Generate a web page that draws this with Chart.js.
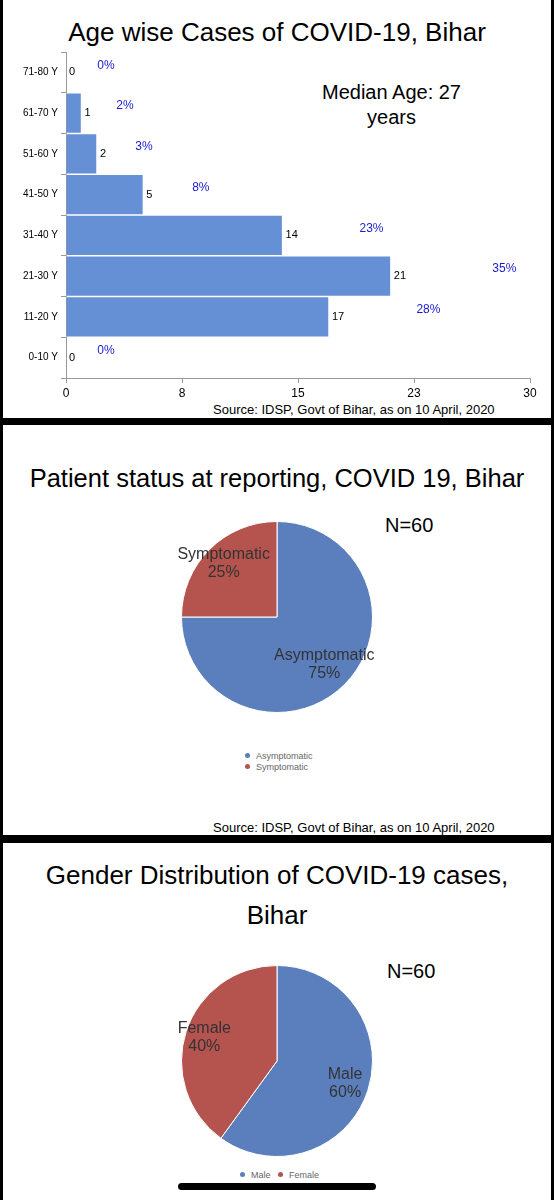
<!DOCTYPE html>
<html><head><meta charset="utf-8">
<script src="https://cdn.jsdelivr.net/npm/chart.js@4"></script>
<style>
body{margin:0;background:#000;width:554px;height:1200px;position:relative;overflow:hidden;font-family:"Liberation Sans",Arial,sans-serif}
.p{position:absolute;left:3px;width:548px;background:#fff}
.t{position:absolute;left:0;width:100%;text-align:center;color:#000;font-size:26px;line-height:40px}
.s{position:absolute;font-size:13px;color:#000;white-space:nowrap}
.lg{position:absolute;font-size:9px;color:#666;white-space:nowrap;line-height:11px}
.d{display:inline-block;width:5px;height:5px;border-radius:50%;margin-right:6px;vertical-align:1px}
canvas{position:absolute}
</style></head><body>
<div class="p" style="top:0;height:418px"></div>
<div class="p" style="top:425px;height:410px"></div>
<div class="p" style="top:843px;height:357px"></div>
<div class="t" style="top:12px">Age wise Cases of COVID-19, Bihar</div>
<div class="t" style="top:458px;font-size:25.5px">Patient status at reporting, COVID 19, Bihar</div>
<div class="t" style="top:855px">Gender Distribution of COVID-19 cases,<br>Bihar</div>
<div class="s" style="left:322px;top:80px;font-size:20px;text-align:center;line-height:25px">Median Age: 27<br>years</div>
<div class="s" style="left:213px;top:402px">Source: IDSP, Govt of Bihar, as on 10 April, 2020</div>
<div class="s" style="left:213px;top:820px">Source: IDSP, Govt of Bihar, as on 10 April, 2020</div>
<div class="s" style="left:385px;top:514px;font-size:20px">N=60</div>
<div class="s" style="left:387px;top:960px;font-size:20px">N=60</div>
<canvas id="c1" style="left:0;top:0;width:554px;height:418px"></canvas>
<canvas id="c2" style="left:0;top:519px;width:554px;height:196px"></canvas>
<canvas id="c3" style="left:0;top:963px;width:554px;height:196px"></canvas>
<div id="lg2" class="lg" style="left:245px;top:751px"></div>
<div id="lg3" class="lg" style="left:240px;top:1170px"></div>
<div style="position:absolute;left:178px;top:1183px;width:198px;height:7px;border-radius:4px;background:#000"></div>
<script>
const ageGroups=["71-80 Y","61-70 Y","51-60 Y","41-50 Y","31-40 Y","21-30 Y","11-20 Y","0-10 Y"];
const ageCases=[0,1,2,5,14,21,17,0];
const agePct=["0%","2%","3%","8%","23%","35%","28%","0%"];
const xTicks=[0,8,15,23,30];
const statusLabels=["Asymptomatic","Symptomatic"];
const statusValues=[45,15];
const statusPct=["75%","25%"];
const genderLabels=["Male","Female"];
const genderValues=[36,24];
const genderPct=["60%","40%"];
const BLUE="#5b7fbd",RED="#b5534f",BAR="#6690d6";

document.getElementById('lg2').innerHTML=statusLabels.map((l,i)=>'<span class="d" style="background:'+[BLUE,RED][i]+'"></span>'+l).join('<br>');
document.getElementById('lg3').innerHTML=genderLabels.map((l,i)=>'<span class="d" style="background:'+[BLUE,RED][i]+'"></span>'+l).join('&nbsp;&nbsp;&nbsp;');

const barLabels={id:'bl',afterDatasetsDraw(ch){
 const c=ch.ctx,m=ch.getDatasetMeta(0);
 c.save();c.textBaseline='middle';
 m.data.forEach((b,i)=>{
  c.font='11px "Liberation Sans",Arial';c.fillStyle='#000';c.textAlign='left';
  c.fillText(ageCases[i],b.x+3,b.y);
  c.font='12px "Liberation Sans",Arial';c.fillStyle='#1a1ad0';c.textAlign='center';
  c.fillText(agePct[i],b.x+40+ageCases[i]*3.5,b.y-7);
 });c.restore();}};

new Chart(document.getElementById('c1'),{type:'bar',
 data:{labels:ageGroups,datasets:[{data:ageCases,backgroundColor:BAR,borderColor:'#fff',borderWidth:1,barPercentage:1,categoryPercentage:1}]},
 options:{indexAxis:'y',responsive:false,animation:false,devicePixelRatio:1,
  layout:{padding:{left:0,right:24,top:52,bottom:10}},
  plugins:{legend:{display:false},tooltip:{enabled:false}},
  scales:{
   x:{min:0,max:30,afterBuildTicks(a){a.ticks=[0,7.5,15,22.5,30].map(v=>({value:v}));},
      ticks:{callback:(v,i)=>xTicks[i],color:'#000',font:{size:12,family:'"Liberation Sans",Arial'}},
      grid:{drawOnChartArea:false,tickLength:5,color:'#999'},border:{color:'#999'},afterFit(a){a.height=30;}},
   y:{ticks:{color:'#000',font:{size:10,family:'"Liberation Sans",Arial'}},
      grid:{drawOnChartArea:false,offset:true,tickLength:5,color:'#999'},border:{color:'#999'},afterFit(a){a.width=66;}}
  }},plugins:[barLabels]});

function pieLabels(pcts,pos){return{id:'pl',afterDatasetsDraw(ch){
 const c=ch.ctx,m=ch.getDatasetMeta(0);c.save();
 c.font='16px "Liberation Sans",Arial';c.fillStyle='#333';c.textAlign='center';c.textBaseline='middle';
 m.data.forEach((a,i)=>{const mid=(a.startAngle+a.endAngle)/2,r=a.outerRadius*pos[i];
  const x=a.x+Math.cos(mid)*r,y=a.y+Math.sin(mid)*r;
  c.fillText(ch.data.labels[i],x,y-9);c.fillText(pcts[i],x,y+9);});
 c.restore();}};}

function pie(id,labels,vals,pcts,pos){
 return new Chart(document.getElementById(id),{type:'pie',
  data:{labels,datasets:[{data:vals,backgroundColor:[BLUE,RED],borderColor:'#fff',borderWidth:1}]},
  options:{responsive:false,animation:false,devicePixelRatio:1,layout:{padding:2},
   plugins:{tooltip:{enabled:false},legend:{display:false}}},plugins:[pieLabels(pcts,pos)]});}

pie('c2',statusLabels,statusValues,statusPct,[0.7,0.79]);
pie('c3',genderLabels,genderValues,genderPct,[0.75,0.8]);
</script></body></html>
